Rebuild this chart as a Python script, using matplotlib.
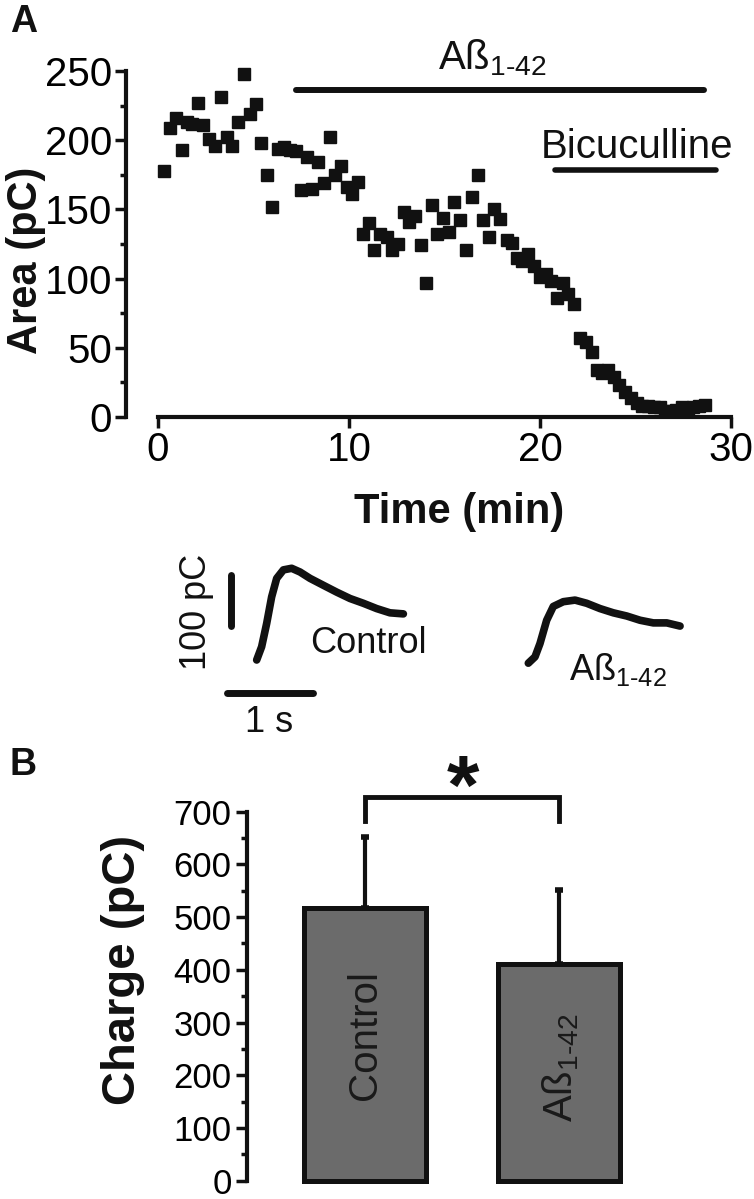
import matplotlib
matplotlib.use("Agg")
import matplotlib.pyplot as plt
from matplotlib.ticker import FixedLocator

plt.rcParams["font.family"] = ["Liberation Sans", "DejaVu Sans"]
plt.rcParams["mathtext.fontset"] = "custom"
plt.rcParams["mathtext.rm"] = "Liberation Sans"

INK = "#111111"
BAR_FILL = "#6b6b6b"
ABETA = "Aß$_{\\mathrm{1\u201042}}$"

# panel A: evoked response area over time
time_min = [0.31, 0.63, 0.94, 1.24, 1.50, 1.76, 2.11, 2.37, 2.69, 2.98, 3.28, 3.60, 3.89,
            4.21, 4.50, 4.82, 5.11, 5.41, 5.69, 5.99, 6.30, 6.60, 6.91, 7.21, 7.47, 7.78,
            8.08, 8.39, 8.69, 9.00, 9.27, 9.56, 9.88, 10.17, 10.45, 10.75, 11.05, 11.33,
            11.62, 11.97, 12.24, 12.58, 12.88, 13.16, 13.46, 13.75, 14.03, 14.33, 14.62,
            14.94, 15.24, 15.50, 15.81, 16.11, 16.46, 16.74, 17.03, 17.33, 17.61, 17.93,
            18.25, 18.55, 18.78, 19.07, 19.39, 19.70, 19.99, 20.29, 20.60, 20.90, 21.22,
            21.48, 21.78, 22.09, 22.39, 22.70, 22.96, 23.26, 23.58, 23.87, 24.15, 24.45,
            24.75, 25.06, 25.36, 25.67, 25.97, 26.26, 26.56, 26.84, 27.14, 27.42, 27.72,
            28.00, 28.33, 28.64]
area_pc = [178, 209, 216, 193, 213, 212, 227, 211, 201, 196, 231, 202, 196,
           213, 248, 219, 226, 198, 175, 152, 194, 195, 193, 192, 164, 188,
           165, 184, 169, 202, 175, 181, 166, 161, 170, 132, 140, 121,
           132, 130, 121, 125, 148, 141, 145, 124, 97, 153, 132,
           144, 134, 155, 142, 121, 159, 175, 142, 130, 150, 143,
           128, 126, 115, 113, 118, 109, 101, 103, 98, 86, 97,
           89, 82, 57, 54, 47, 34, 32, 34, 29, 23, 18,
           14, 10, 8, 8, 7, 7, 4, 4, 5, 7, 5,
           7, 8, 9]
abeta_span = [7.2, 28.6]
bicuculline_span = [20.8, 29.2]

# example traces (s, pC)
control_t = [0.0, 0.057, 0.115, 0.172, 0.23, 0.307, 0.402, 0.498, 0.613, 0.766, 0.92,
             1.073, 1.226, 1.379, 1.532, 1.686]
control_q = [0, 25, 69, 119, 154, 170, 173, 166, 154, 141, 128, 116, 107, 97, 89, 87]
abeta_t = [3.122, 3.199, 3.256, 3.333, 3.409, 3.524, 3.659, 3.793, 3.946, 4.099, 4.253,
           4.406, 4.559, 4.713, 4.866]
abeta_q = [-6, 6, 31, 75, 101, 110, 113, 107, 97, 89, 83, 75, 70, 70, 64]

# panel B: mean charge
groups = ["Control", ABETA]
charge_mean = [517, 411]
charge_sem = [135, 141]

W, H = 754, 1199
fig = plt.figure(figsize=(W / 100, H / 100), dpi=100)


def px_axes(left, top, right, bottom):
    return fig.add_axes([left / W, 1 - bottom / H, (right - left) / W, (bottom - top) / H])


def style_axis(ax, size):
    for side in ("top", "right"):
        ax.spines[side].set_visible(False)
    for side in ("left", "bottom"):
        ax.spines[side].set_linewidth(3)
        ax.spines[side].set_color(INK)
    ax.tick_params(which="major", direction="out", length=8, width=2.5, color=INK,
                   labelsize=size, pad=2)
    ax.tick_params(which="minor", direction="out", length=4, width=2.5, color=INK)


# ---- panel A
axA = px_axes(126, 40, 745, 430)
axA.plot(time_min, area_pc, ls="none", marker="s", ms=8.5, color=INK, clip_on=False, zorder=3)
axA.set_xlim(-1.675, 30.73)
axA.set_ylim(-9.4, 272.4)
style_axis(axA, 29)
axA.spines["bottom"].set_position(("data", 0))
axA.spines["left"].set_bounds(0, 250)
axA.spines["bottom"].set_bounds(0, 30)
axA.set_xticks([0, 10, 20, 30])
axA.set_yticks(range(0, 251, 50))
axA.yaxis.set_minor_locator(FixedLocator(range(25, 250, 50)))

axA.plot(abeta_span, [236, 236], color=INK, lw=4.3, solid_capstyle="round", clip_on=False)
axA.text(17.5, 251, ABETA, ha="center", va="baseline", fontsize=29, color=INK)
axA.plot(bicuculline_span, [178.5, 178.5], color=INK, lw=4, solid_capstyle="round",
         clip_on=False)
axA.text(25.1, 187, "Bicuculline", ha="center", va="baseline", fontsize=29, color=INK)

fig.text(26 / W, 1 - 260 / H, "Area (pC)", rotation=90, ha="center", va="center",
         fontsize=30, fontweight="bold", color=INK)
fig.text(459 / W, 1 - 512 / H, "Time (min)", ha="center", va="center",
         fontsize=30, fontweight="bold", color=INK)

# ---- traces
axT = px_axes(150, 550, 720, 740)
axT.axis("off")
axT.set_xlim(-1.226, 5.325)
axT.set_ylim(-150.9, 207.5)
for t, q in ((control_t, control_q), (abeta_t, abeta_q)):
    axT.plot(t, q, color=INK, lw=5.5, solid_capstyle="round", solid_joinstyle="round")
axT.plot([-0.295, -0.295], [64, 160], color=INK, lw=5, solid_capstyle="round")
axT.plot([-0.345, 0.65], [-63, -63], color=INK, lw=5, solid_capstyle="round")
axT.text(-0.686, 90, "100 pC", rotation=90, ha="center", va="center", fontsize=26, color=INK)
axT.text(0.14, -117, "1 s", ha="center", va="center", fontsize=26, color=INK)
axT.text(0.616, 32, "Control", ha="left", va="center", fontsize=26, color=INK)
axT.text(3.59, -37.7, ABETA, ha="left", va="baseline", fontsize=26, color=INK)

# ---- panel B
axB = px_axes(247, 740, 700, 1185)
axB.bar([0, 1], charge_mean, width=0.63, color=BAR_FILL, edgecolor=INK, linewidth=3.6,
        zorder=3)
axB.errorbar([0, 1], charge_mean, yerr=[[0, 0], charge_sem], fmt="none", ecolor=INK,
             elinewidth=3, capsize=3, capthick=4, zorder=2)
axB.set_xlim(-0.61, 1.731)
axB.set_ylim(-8.2, 836)
style_axis(axB, 25)
axB.spines["bottom"].set_visible(False)
axB.spines["left"].set_bounds(0, 700)
axB.set_xticks([])
axB.set_yticks(range(0, 701, 100))
axB.yaxis.set_minor_locator(FixedLocator(range(50, 700, 100)))
axB.tick_params(axis="y", pad=3)

label_y = [276, 214]
for i, (name, y) in enumerate(zip(groups, label_y)):
    axB.text(i + 0.01 * i, y, name, rotation=90, ha="center", va="center", fontsize=29,
             color="#1a1a1a", zorder=4)

axB.plot([0, 0, 1, 1], [683, 727, 727, 683], color=INK, lw=3.5, solid_joinstyle="miter",
         clip_on=False)
axB.text(0.506, 696, "*", ha="center", va="baseline", fontsize=60, fontweight="bold",
         color=INK, clip_on=False)

fig.text(123 / W, 1 - 970 / H, "Charge (pC)", rotation=90, ha="center", va="center",
         fontsize=34, fontweight="bold", color=INK)

fig.text(10 / W, 1 - 32 / H, "A", ha="left", va="baseline", fontsize=27, fontweight="bold",
         color=INK)
fig.text(10 / W, 1 - 775 / H, "B", ha="left", va="baseline", fontsize=27, fontweight="bold",
         color=INK)

fig.savefig("out.png", dpi=100, facecolor="white")
plt.close(fig)
